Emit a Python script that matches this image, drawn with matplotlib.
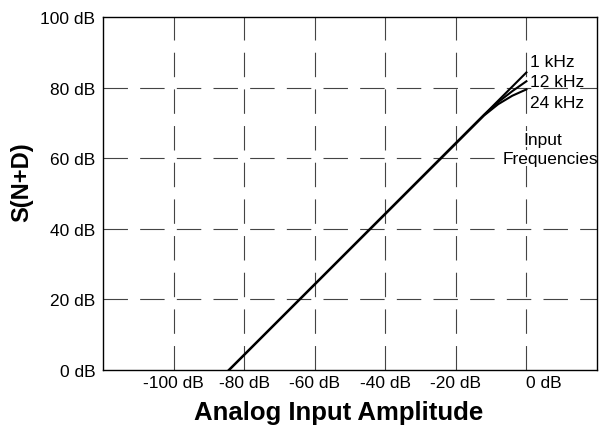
import matplotlib
matplotlib.use('Agg')
import matplotlib.pyplot as plt

plt.rcParams['font.family'] = ['Liberation Sans', 'DejaVu Sans']

# Data
amp = [-84.3, -12, -8, -4, 0]
s_1k = [0, 72.3, 76.3, 80.3, 84.3]
s_12k = [0, 72.3, 75.9, 79.0, 81.8]
s_24k = [0, 72.1, 75.3, 77.7, 79.5]
xticks = [-100, -80, -60, -40, -20, 0]
yticks = [0, 20, 40, 60, 80, 100]
series_labels = ['1 kHz', '12 kHz', '24 kHz']
label_y = [87.3, 81.6, 75.9]

fig = plt.figure(figsize=(6.01, 4.27), dpi=100)
ax = fig.add_axes([0.1714, 0.1311, 0.8219, 0.8267])

dash = (0, (22, 11))
for xt in xticks:
    ax.axvline(xt, color='#444444', lw=0.8, linestyle=dash, zorder=1)
for yt in yticks[1:-1]:
    ax.axhline(yt, color='#444444', lw=0.8, linestyle=dash, zorder=1)

for s in [s_1k, s_12k, s_24k]:
    ax.plot(amp, s, color='black', lw=1.5, zorder=3)

ax.set_xlim(-120, 20)
ax.set_ylim(0, 100)
ax.set_xticks(xticks)
ax.set_xticklabels(['%d dB' % v for v in xticks], fontsize=12.5)
ax.set_yticks(yticks)
ax.set_yticklabels(['%d dB' % v for v in yticks], fontsize=12.5)
ax.tick_params(length=0, pad=5.5)
ax.tick_params(axis='x', pad=3.5)
# last label sits to the right of its tick in the reference
ax.get_xticklabels()[-1].set_horizontalalignment('left')

for sp in ax.spines.values():
    sp.set_linewidth(1.0)
    sp.set_zorder(5)

for lab, y in zip(series_labels, label_y):
    ax.text(1.0, y, lab, fontsize=12.5, va='center', ha='left', zorder=4)

wb = dict(facecolor='white', edgecolor='none', pad=0.5)
ax.text(4.7, 65.4, 'Input', fontsize=12.5, ha='center', va='center',
        zorder=4, bbox=wb)
ax.text(6.7, 60.0, 'Frequencies', fontsize=12.5, ha='center', va='center',
        zorder=4, bbox=wb)

ax.set_xlabel('Analog Input Amplitude', fontsize=18.5, fontweight='bold')
ax.xaxis.set_label_coords(0.476, -0.085)
ax.set_ylabel('S(N+D)', fontsize=17, fontweight='bold')
ax.yaxis.set_label_coords(-0.142, 0.535)

plt.savefig('out.png', dpi=100)
